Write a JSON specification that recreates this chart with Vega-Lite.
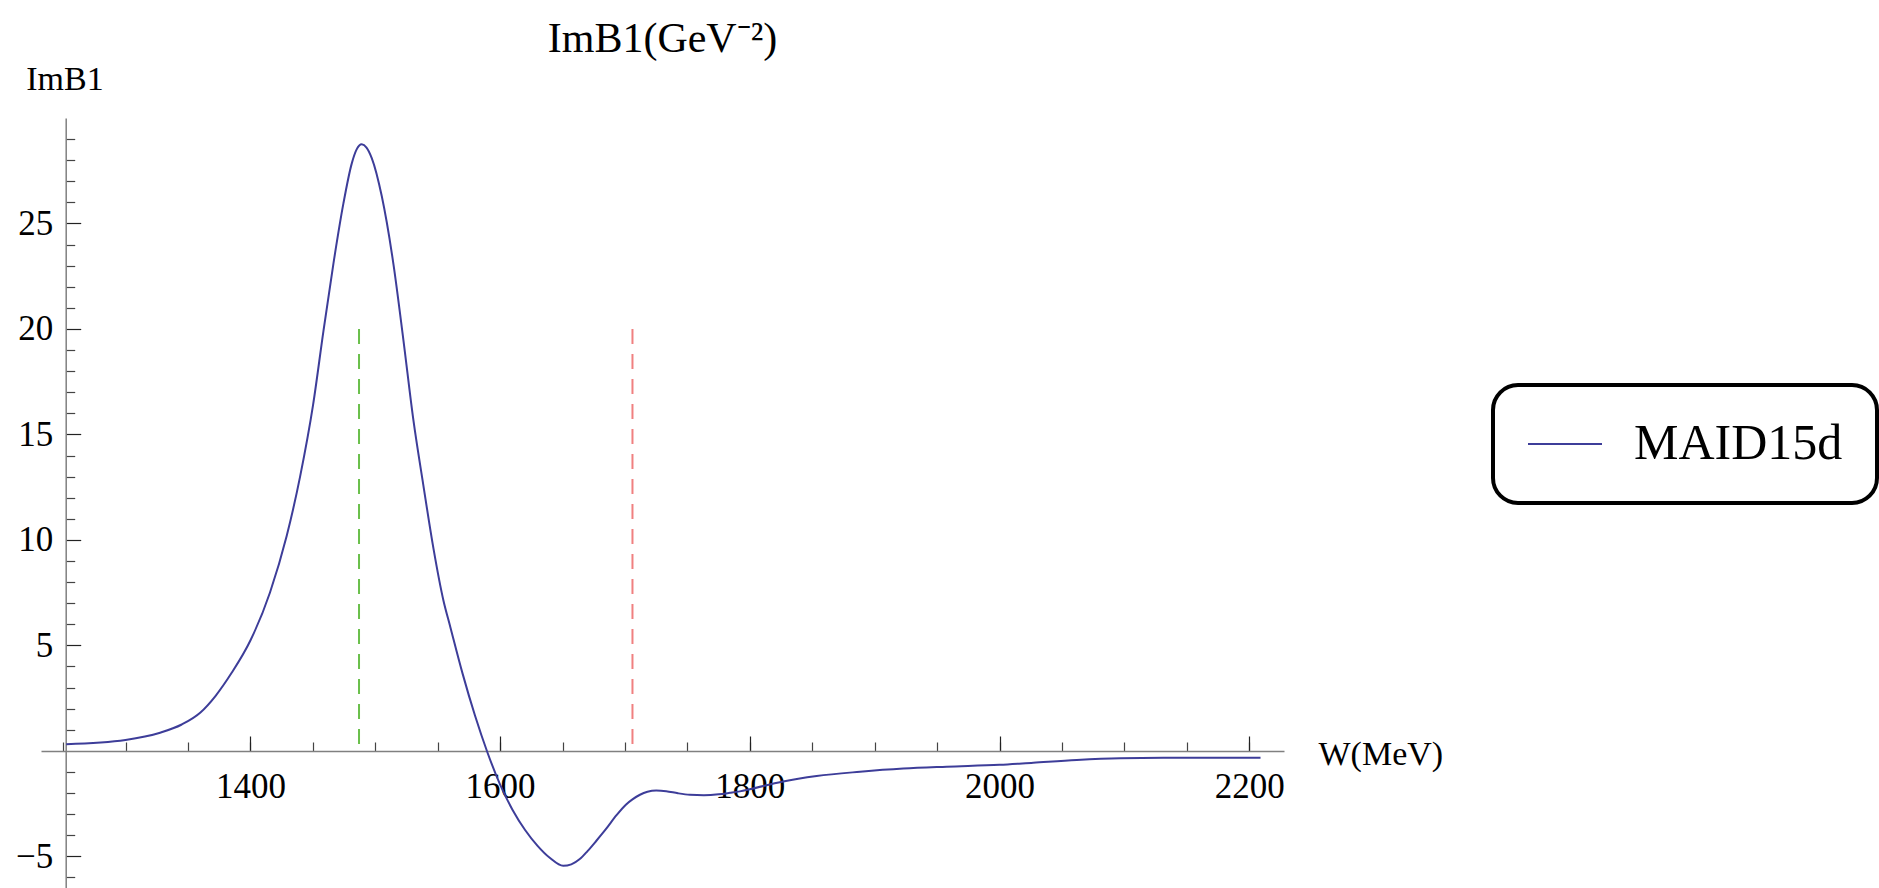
{
  "$schema": "https://vega.github.io/schema/vega-lite/v6.json",
  "autosize": {"type": "none"},
  "padding": {"left": 41, "top": 118, "right": 595, "bottom": 0},
  "width": 1243,
  "height": 770,
  "background": "white",
  "title": {
    "text": "ImB1(GeV⁻²)",
    "frame": "group",
    "anchor": "middle",
    "font": "Liberation Serif",
    "fontSize": 42,
    "fontWeight": "normal",
    "color": "black",
    "baseline": "alphabetic",
    "offset": -32
  },
  "config": {
    "view": {"stroke": null},
    "axis": {"grid": false, "labelFlush": false, "labelOverlap": false}
  },
  "resolve": {"axis": {"x": "independent", "y": "independent"}},
  "layer": [
    {
      "data": {"values": [{"W": 1487, "lo": 0, "hi": 20}]},
      "mark": {"type": "rule", "color": "#6abf4b", "strokeWidth": 2, "strokeDash": [15, 10]},
      "encoding": {
        "x": {
          "field": "W", "type": "quantitative",
          "scale": {"domain": [1232.3, 2227.8], "nice": false, "zero": false},
          "axis": {
            "orient": "bottom", "offset": -137, "domain": false, "labels": false, "title": null,
            "values": [1250, 1300, 1350, 1400, 1450, 1500, 1550, 1600, 1650, 1700, 1750, 1800, 1850, 1900, 1950, 2000, 2050, 2100, 2150, 2200],
            "tickSize": -9, "tickColor": "#444444", "tickWidth": 1.2
          }
        },
        "y": {
          "field": "hi", "type": "quantitative",
          "scale": {"domain": [-6.5, 30], "nice": false, "zero": false},
          "axis": {
            "orient": "left", "offset": -24.7, "domain": false, "labels": false, "title": null,
            "values": [-6, -4, -3, -2, -1, 1, 2, 3, 4, 6, 7, 8, 9, 11, 12, 13, 14, 16, 17, 18, 19, 21, 22, 23, 24, 26, 27, 28, 29],
            "tickSize": -9, "tickColor": "#444444", "tickWidth": 1.2
          }
        },
        "y2": {"field": "lo"}
      }
    },
    {
      "data": {"values": [{"W": 1706, "lo": 0, "hi": 20}]},
      "mark": {"type": "rule", "color": "#f08080", "strokeWidth": 2, "strokeDash": [15, 10]},
      "encoding": {
        "x": {"field": "W", "type": "quantitative", "axis": null},
        "y": {"field": "hi", "type": "quantitative", "axis": null},
        "y2": {"field": "lo"}
      }
    },
    {
      "data": {"values": [
        {"W": 1252.5, "v": 0.32, "series": "MAID15d"},
        {"W": 1300, "v": 0.52, "series": "MAID15d"},
        {"W": 1327.7, "v": 0.86, "series": "MAID15d"},
        {"W": 1345, "v": 1.25, "series": "MAID15d"},
        {"W": 1360, "v": 1.82, "series": "MAID15d"},
        {"W": 1372, "v": 2.6, "series": "MAID15d"},
        {"W": 1385, "v": 3.7, "series": "MAID15d"},
        {"W": 1400, "v": 5.23, "series": "MAID15d"},
        {"W": 1415.7, "v": 7.51, "series": "MAID15d"},
        {"W": 1429, "v": 10.17, "series": "MAID15d"},
        {"W": 1439.8, "v": 13.0, "series": "MAID15d"},
        {"W": 1450.2, "v": 16.4, "series": "MAID15d"},
        {"W": 1458.5, "v": 19.9, "series": "MAID15d"},
        {"W": 1466.5, "v": 23.1, "series": "MAID15d"},
        {"W": 1474.5, "v": 25.95, "series": "MAID15d"},
        {"W": 1481.2, "v": 27.85, "series": "MAID15d"},
        {"W": 1485, "v": 28.5, "series": "MAID15d"},
        {"W": 1489.2, "v": 28.75, "series": "MAID15d"},
        {"W": 1493, "v": 28.6, "series": "MAID15d"},
        {"W": 1497.2, "v": 28.1, "series": "MAID15d"},
        {"W": 1505.2, "v": 26.3, "series": "MAID15d"},
        {"W": 1514.5, "v": 23.1, "series": "MAID15d"},
        {"W": 1522.5, "v": 19.5, "series": "MAID15d"},
        {"W": 1530.5, "v": 15.7, "series": "MAID15d"},
        {"W": 1538.5, "v": 12.6, "series": "MAID15d"},
        {"W": 1546.6, "v": 9.6, "series": "MAID15d"},
        {"W": 1554.6, "v": 7.13, "series": "MAID15d"},
        {"W": 1560, "v": 5.9, "series": "MAID15d"},
        {"W": 1570, "v": 3.65, "series": "MAID15d"},
        {"W": 1580, "v": 1.65, "series": "MAID15d"},
        {"W": 1590, "v": -0.1, "series": "MAID15d"},
        {"W": 1600, "v": -1.6, "series": "MAID15d"},
        {"W": 1610, "v": -2.8, "series": "MAID15d"},
        {"W": 1620, "v": -3.75, "series": "MAID15d"},
        {"W": 1630, "v": -4.5, "series": "MAID15d"},
        {"W": 1640, "v": -5.08, "series": "MAID15d"},
        {"W": 1650.5, "v": -5.45, "series": "MAID15d"},
        {"W": 1657, "v": -5.38, "series": "MAID15d"},
        {"W": 1663.8, "v": -5.13, "series": "MAID15d"},
        {"W": 1670, "v": -4.75, "series": "MAID15d"},
        {"W": 1677.1, "v": -4.26, "series": "MAID15d"},
        {"W": 1685, "v": -3.69, "series": "MAID15d"},
        {"W": 1693.2, "v": -3.05, "series": "MAID15d"},
        {"W": 1700.7, "v": -2.55, "series": "MAID15d"},
        {"W": 1706, "v": -2.3, "series": "MAID15d"},
        {"W": 1712, "v": -2.08, "series": "MAID15d"},
        {"W": 1718, "v": -1.94, "series": "MAID15d"},
        {"W": 1725, "v": -1.88, "series": "MAID15d"},
        {"W": 1733, "v": -1.91, "series": "MAID15d"},
        {"W": 1742.4, "v": -2.01, "series": "MAID15d"},
        {"W": 1752, "v": -2.08, "series": "MAID15d"},
        {"W": 1763.2, "v": -2.1, "series": "MAID15d"},
        {"W": 1775, "v": -2.06, "series": "MAID15d"},
        {"W": 1784, "v": -1.99, "series": "MAID15d"},
        {"W": 1792, "v": -1.92, "series": "MAID15d"},
        {"W": 1800, "v": -1.82, "series": "MAID15d"},
        {"W": 1825.7, "v": -1.46, "series": "MAID15d"},
        {"W": 1853.5, "v": -1.19, "series": "MAID15d"},
        {"W": 1888.2, "v": -0.99, "series": "MAID15d"},
        {"W": 1922.9, "v": -0.84, "series": "MAID15d"},
        {"W": 1957.6, "v": -0.75, "series": "MAID15d"},
        {"W": 2000, "v": -0.66, "series": "MAID15d"},
        {"W": 2027, "v": -0.56, "series": "MAID15d"},
        {"W": 2061.8, "v": -0.43, "series": "MAID15d"},
        {"W": 2096.5, "v": -0.35, "series": "MAID15d"},
        {"W": 2131.2, "v": -0.33, "series": "MAID15d"},
        {"W": 2166, "v": -0.33, "series": "MAID15d"},
        {"W": 2209, "v": -0.33, "series": "MAID15d"}
      ]},
      "mark": {"type": "line", "strokeWidth": 2, "interpolate": "monotone"},
      "encoding": {
        "x": {
          "field": "W", "type": "quantitative",
          "scale": {"domain": [1232.3, 2227.8], "nice": false, "zero": false},
          "axis": {
            "orient": "bottom", "offset": -137, "format": "d",
            "values": [1400, 1600, 1800, 2000, 2200],
            "tickSize": -15, "tickColor": "#222222", "tickWidth": 1.2,
            "domain": true, "domainColor": "#808080", "domainWidth": 1.5,
            "labelFont": "Liberation Serif", "labelFontSize": 35, "labelColor": "black",
            "labelBaseline": "alphabetic", "labelPadding": 61,
            "title": "W(MeV)", "titleFont": "Liberation Serif", "titleFontSize": 34, "titleFontWeight": "normal",
            "titleColor": "black", "titleX": 1277, "titleY": 13, "titleAlign": "left", "titleBaseline": "alphabetic", "titleAngle": 0
          }
        },
        "y": {
          "field": "v", "type": "quantitative",
          "scale": {"domain": [-6.5, 30], "nice": false, "zero": false},
          "axis": {
            "orient": "left", "offset": -24.7, "format": "d",
            "values": [-5, 5, 10, 15, 20, 25],
            "tickSize": -15, "tickColor": "#222222", "tickWidth": 1.2,
            "domain": true, "domainColor": "#808080", "domainWidth": 1.5,
            "labelFont": "Liberation Serif", "labelFontSize": 35, "labelColor": "black",
            "labelPadding": 28,
            "title": "ImB1", "titleFont": "Liberation Serif", "titleFontSize": 34, "titleFontWeight": "normal",
            "titleColor": "black", "titleX": -40, "titleY": -29, "titleAlign": "left", "titleBaseline": "alphabetic", "titleAngle": 0
          }
        },
        "color": {
          "field": "series", "type": "nominal",
          "scale": {"domain": ["MAID15d"], "range": ["#3d3d99"]},
          "legend": {
            "orient": "none", "legendX": 1452, "legendY": 267, "title": null,
            "strokeColor": "black", "cornerRadius": 25, "padding": 34,
            "labelFont": "Liberation Serif", "labelFontSize": 50, "labelColor": "black", "labelOffset": 31, "labelLimit": 500,
            "symbolType": "stroke", "symbolSize": 5476, "symbolStrokeWidth": 2, "clipHeight": 50,
            "encode": {"legend": {"update": {"strokeWidth": {"value": 4}}}}
          }
        }
      }
    }
  ]
}
